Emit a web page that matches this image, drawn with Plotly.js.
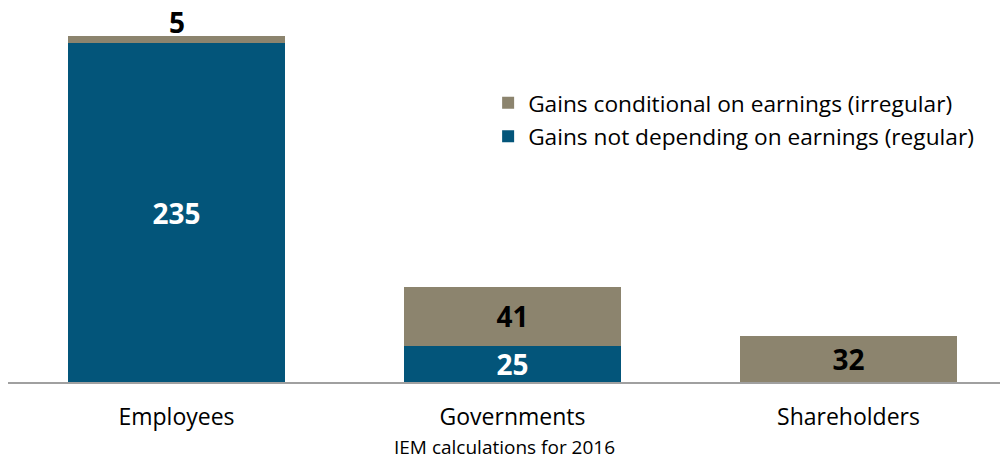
<!DOCTYPE html>
<html>
<head>
<meta charset="utf-8">
<script src="https://cdn.plot.ly/plotly-3.0.1.min.js"></script>
<style>html,body{margin:0;padding:0;background:#fff;}</style>
</head>
<body>
<div id="chart" style="width:1003px;height:459px;"></div>
<script>
const categories = ["Employees", "Governments", "Shareholders"];
const regular = [235, 25, 0];
const irregular = [5, 41, 32];
const seriesNames = ["Gains not depending on earnings (regular)", "Gains conditional on earnings (irregular)"];
const caption = "IEM calculations for 2016";

const blue = "#03557A";
const tan = "#8C846E";
const fontFam = "Open Sans, sans-serif";
const labelFont = {family: fontFam, size: 28, color: "#000000", weight: "bold"};

// labels for bars too thin to hold them are drawn just above the stack
const thin = irregular.map(v => v < 10);

const traces = [
  {
    type: "bar", name: seriesNames[0], x: categories, y: regular,
    legendgroup: "g1", legendrank: 2,
    marker: {color: blue},
    text: regular.map(v => v ? String(v) : ""),
    textposition: "inside", insidetextanchor: "middle", textangle: 0,
    textfont: {family: fontFam, size: 28, color: "#ffffff", weight: "bold"},
    constraintext: "none", width: 0.646, hoverinfo: "skip"
  },
  {
    type: "bar", name: seriesNames[1], x: categories, y: irregular,
    legendgroup: "g2", legendrank: 1,
    marker: {color: tan},
    text: irregular.map((v, i) => thin[i] ? "" : String(v)),
    textposition: "inside", insidetextanchor: "middle", textangle: 0,
    textfont: labelFont,
    constraintext: "none", width: 0.646, hoverinfo: "skip"
  }
];

const annotations = categories.map((c, i) => thin[i] ? {
  text: String(irregular[i]), x: c, y: regular[i] + irregular[i], xref: "x", yref: "y",
  xanchor: "center", yanchor: "middle", yshift: 14, showarrow: false, font: labelFont
} : null).filter(a => a);

annotations.push({text: caption, xref: "paper", yref: "paper", x: 0.5, y: -0.1747,
                 xanchor: "center", yanchor: "middle", showarrow: false,
                 font: {family: fontFam, size: 19, color: "#000"}});

const layout = {
  width: 1003, height: 459,
  margin: {l: 8, r: 3, t: 10, b: 77},
  barmode: "stack",
  showlegend: true,
  legend: {x: 0.484, y: 0.808, xanchor: "left", yanchor: "top", traceorder: "grouped",
           tracegroupgap: 1,
           font: {family: fontFam, size: 22.7, color: "#000"}, bgcolor: "rgba(0,0,0,0)",
           itemwidth: 30},
  xaxis: {range: [-0.5015, 2.4509], showline: true, linecolor: "#A0A0A0", linewidth: 1.5,
          ticks: "", ticklabelstandoff: 14,
          tickfont: {family: fontFam, size: 23, color: "#000"}, fixedrange: true},
  yaxis: {range: [0, 257.9], visible: false, showgrid: false, zeroline: false},
  annotations: annotations,
  plot_bgcolor: "#fff", paper_bgcolor: "#fff"
};

Plotly.newPlot("chart", traces, layout, {displayModeBar: false, staticPlot: true});
</script>
</body>
</html>
